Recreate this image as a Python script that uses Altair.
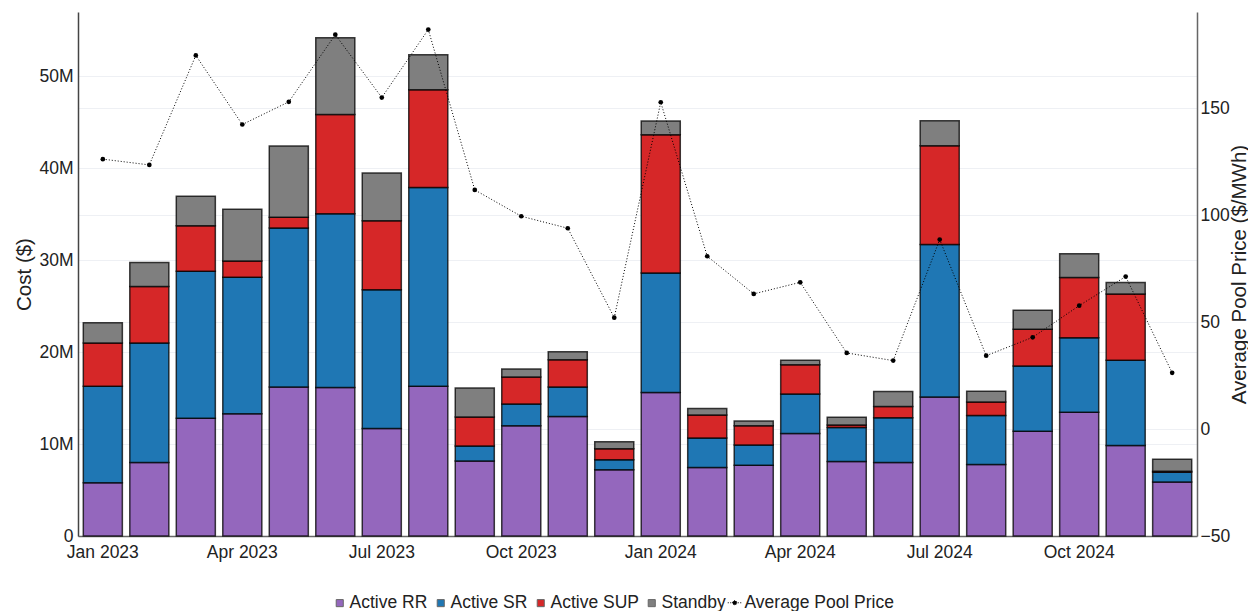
import altair as alt
import pandas as pd

months = ["Jan 2023", "Feb 2023", "Mar 2023", "Apr 2023", "May 2023", "Jun 2023",
          "Jul 2023", "Aug 2023", "Sep 2023", "Oct 2023", "Nov 2023", "Dec 2023",
          "Jan 2024", "Feb 2024", "Mar 2024", "Apr 2024", "May 2024", "Jun 2024",
          "Jul 2024", "Aug 2024", "Sep 2024", "Oct 2024", "Nov 2024", "Dec 2024"]

# costs in millions of $
active_rr = [5.8, 8.0, 12.8, 13.3, 16.2, 16.15, 11.7, 16.3, 8.15, 12.0, 13.0, 7.2,
             15.6, 7.44, 7.7, 11.14, 8.1, 8.0, 15.13, 7.77, 11.4, 13.46, 9.84, 5.88]
active_sr = [10.5, 13.0, 16.0, 14.85, 17.3, 18.9, 15.1, 21.6, 1.65, 2.35, 3.2, 1.1,
             13.0, 3.22, 2.2, 4.3, 3.7, 4.86, 16.58, 5.33, 7.1, 8.1, 9.28, 1.05]
active_sup = [4.7, 6.15, 4.95, 1.77, 1.17, 10.8, 7.5, 10.65, 3.15, 2.95, 2.98, 1.2,
              15.06, 2.5, 2.1, 3.2, 0.28, 1.23, 10.73, 1.48, 4.0, 6.55, 7.2, 0.11]
standby = [2.2, 2.6, 3.2, 5.63, 7.76, 8.35, 5.2, 3.8, 3.15, 0.87, 0.87, 0.76,
           1.48, 0.7, 0.5, 0.47, 0.84, 1.64, 2.72, 1.17, 2.07, 2.6, 1.25, 1.31]
# $/MWh
pool_price = [126.2, 123.5, 174.7, 142.4, 153.0, 184.4, 155.0, 186.8, 111.8, 99.5, 93.9, 52.1,
              152.8, 80.8, 63.2, 68.6, 35.6, 32.0, 88.6, 34.3, 42.9, 57.7, 71.3, 26.3]

series = ["Active RR", "Active SR", "Active SUP", "Standby"]
colors = ["#9467bd", "#1f77b4", "#d62728", "#7f7f7f"]
line_name = "Average Pool Price"

rows = []
for k, (name, vals) in enumerate(zip(series, [active_rr, active_sr, active_sup, standby])):
    for m, v in zip(months, vals):
        rows.append({"month": m, "series": name, "idx": k, "cost": v * 1e6})
bar_df = pd.DataFrame(rows)
price_df = pd.DataFrame({"month": months, "price": pool_price, "label": line_name})

FONT = "Liberation Sans"
TXT = "#222222"

x_enc = alt.X(
    "month:N", sort=months, title=None,
    scale=alt.Scale(paddingInner=0.16, paddingOuter=0.114),
    axis=alt.Axis(
        labelAngle=0, ticks=False, labelPadding=7, grid=False,
        domainColor="#666666", domainWidth=1.5,
        labelFontSize=17.5, labelColor=TXT, labelFont=FONT,
        labelExpr="indexof(['Jan','Apr','Jul','Oct'], slice(datum.value,0,3)) >= 0 ? datum.value : ''",
    ),
)

bars = alt.Chart(bar_df).mark_bar(
    stroke="black", strokeWidth=1.5, strokeOpacity=0.75
).encode(
    x=x_enc,
    y=alt.Y(
        "cost:Q", stack="zero",
        scale=alt.Scale(domain=[0, 57e6], nice=False),
        axis=alt.Axis(
            title="Cost ($)", values=[0, 10e6, 20e6, 30e6, 40e6, 50e6],
            labelExpr="datum.value == 0 ? '0' : format(datum.value/1e6, 'd') + 'M'",
            ticks=False, labelPadding=5, grid=True, gridColor="#eef0f4", gridWidth=1,
            domainColor="#444444", domainWidth=1.5,
            labelFontSize=17.5, labelColor=TXT, labelFont=FONT,
            titleFontSize=20.5, titleFontWeight="normal", titleColor=TXT, titleFont=FONT,
            titleAngle=270, titleX=-48, titleY=262, titleAlign="center",
            titleBaseline="alphabetic",
        ),
    ),
    color=alt.Color(
        "series:N", scale=alt.Scale(domain=series, range=colors),
        legend=alt.Legend(
            title=None, orient="none", direction="horizontal", legendX=253, legendY=582,
            symbolType="square", symbolSize=50, symbolStrokeColor="#666666",
            symbolStrokeWidth=1, labelFontSize=17.5, labelColor=TXT, labelFont=FONT,
            labelOffset=1, columnPadding=4,
        ),
    ),
    order=alt.Order("idx:Q", sort="ascending"),
)

price_axis = alt.Axis(
    orient="right", title="Average Pool Price ($/MWh)", values=[-50, 0, 50, 100, 150],
    labelExpr="datum.value < 0 ? '\u2212' + abs(datum.value) : '' + datum.value",
    ticks=False, labelPadding=3, grid=True, gridColor="#eef0f4", gridWidth=1,
    domainColor="#666666", domainWidth=1.5,
    labelFontSize=17.5, labelColor=TXT, labelFont=FONT,
    titleFontSize=20.5, titleFontWeight="normal", titleColor=TXT, titleFont=FONT,
    titleAngle=270, titleX=48, titleY=262, titleAlign="center",
    titleBaseline="alphabetic",
)
price_scale = alt.Scale(domain=[-50, 195], nice=False, zero=False)

line = alt.Chart(price_df).mark_line(
    strokeWidth=1, strokeDash=[1, 2]
).encode(
    x=alt.X("month:N", sort=months),
    y=alt.Y("price:Q", scale=price_scale, axis=price_axis),
    stroke=alt.Stroke(
        "label:N", scale=alt.Scale(domain=[line_name], range=["black"]),
        legend=alt.Legend(
            title=None, orient="none", direction="horizontal", legendX=648, legendY=582,
            symbolType="M-1,0H1M-0.3,0A0.3,0.3,0,1,1,0.3,0A0.3,0.3,0,1,1,-0.3,0",
            symbolSize=196, symbolStrokeWidth=1, symbolDash=[1, 1.5],
            symbolFillColor="black", symbolStrokeColor="black",
            labelFontSize=17.5, labelColor=TXT, labelFont=FONT, labelOffset=1,
        ),
    ),
)

points = alt.Chart(price_df).mark_point(
    filled=True, size=22, color="black", opacity=1
).encode(
    x=alt.X("month:N", sort=months),
    y=alt.Y("price:Q", scale=price_scale, axis=price_axis),
)

price_layer = alt.layer(line, points)

chart = alt.layer(bars, price_layer).resolve_scale(
    y="independent", color="independent", stroke="independent"
).properties(
    width=1119, height=524,
    autosize=alt.AutoSizeParams(type="none"),
    padding={"left": 70, "top": 4, "right": 51, "bottom": 75},
    background="white",
).configure_view(strokeWidth=0)

chart.save("out.html", embed_options={"renderer": "svg", "actions": False})
